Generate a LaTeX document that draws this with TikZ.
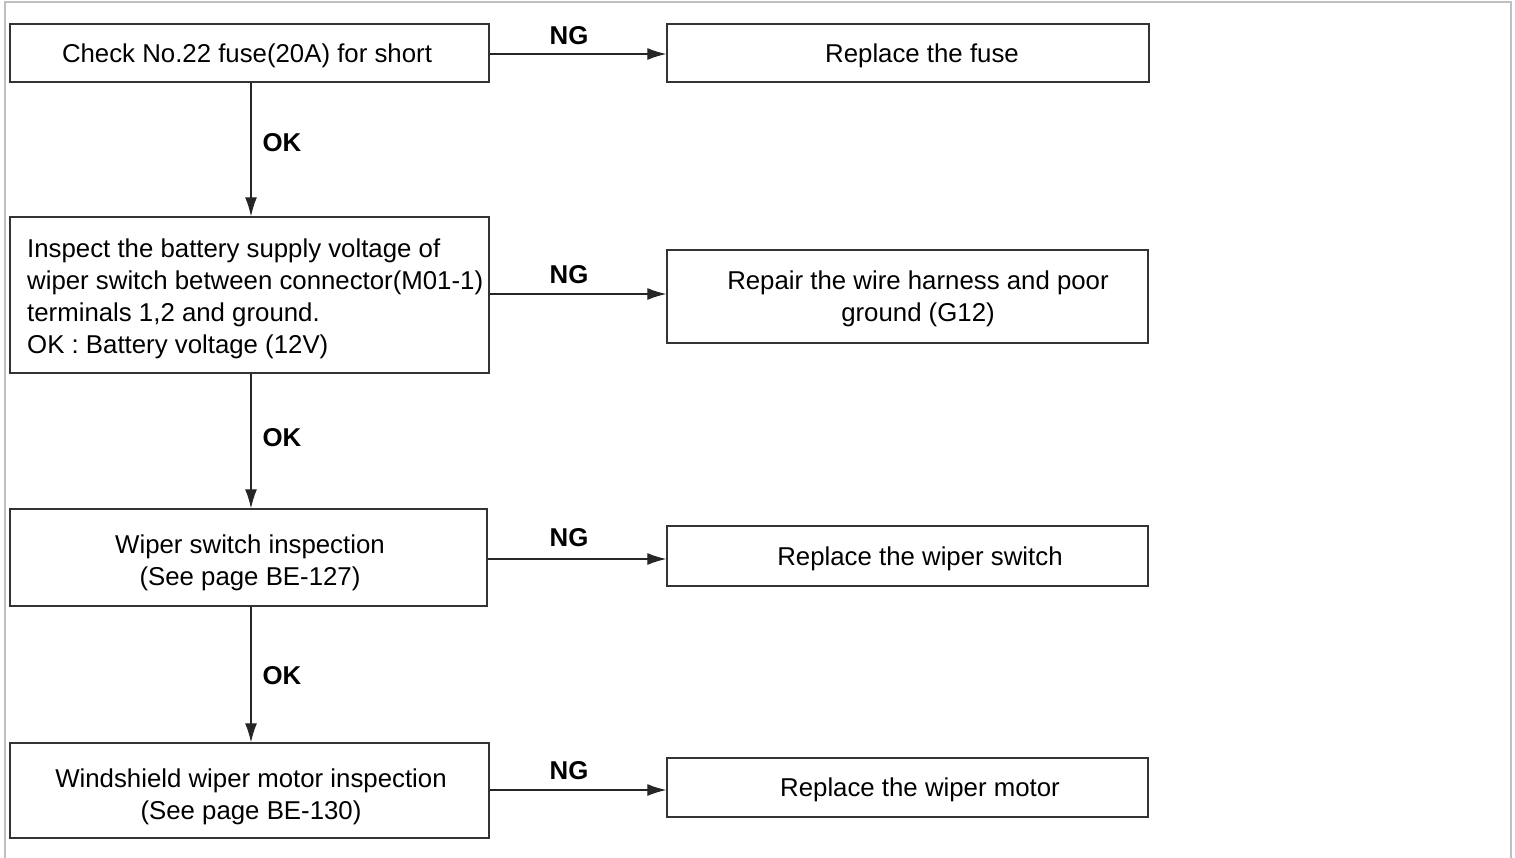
\documentclass[tikz,border=0pt]{standalone}
\usepackage{fontspec}
\setmainfont{Liberation Sans}
\usetikzlibrary{arrows.meta}
\begin{document}
\begin{tikzpicture}[x=1pt,y=-1pt,
  box/.style={draw=black!80, line width=1.4pt, inner sep=0pt},
  txt/.style={inner sep=0pt, align=center, font=\fontsize{25.8}{32}\selectfont},
  flow/.style={draw=black!85, line width=1.3pt, -{Latex[length=19pt,width=12pt]}},
  lbl/.style={inner sep=0pt, font=\fontsize{25.8}{32}\selectfont\bfseries}]
\useasboundingbox (0,0) rectangle (1515,858);
% outer frame
\draw[black!25, line width=2.2pt] (5,860) -- (5,2) -- (1511,2) -- (1511,860);

% left column: checks
\node[box, minimum width=479pt, minimum height=58pt] (c1) at (249.5,53) {};
\node[txt] (c1t) at (247,55.5) {Check No.22 fuse(20A) for short};
\node[box, minimum width=479pt, minimum height=156pt] (c2) at (249.5,295) {};
\node[txt, anchor=west, align=left] (c2t) at (27,299)
  {Inspect the battery supply voltage of\\
   wiper switch between connector(M01-1)\\
   terminals 1,2 and ground.\\
   OK : Battery voltage (12V)};
\node[box, minimum width=477pt, minimum height=97pt] (c3) at (248.5,557.5) {};
\node[txt] (c3t) at (250,563) {Wiper switch inspection\\(See page BE-127)};
\node[box, minimum width=479pt, minimum height=95pt] (c4) at (249.5,790.5) {};
\node[txt] (c4t) at (251,796.5) {Windshield wiper motor inspection\\(See page BE-130)};

% right column: repairs
\node[box, minimum width=482pt, minimum height=58pt] (r1) at (908,53) {};
\node[txt] (r1t) at (922,55.5) {Replace the fuse};
\node[box, minimum width=481pt, minimum height=93pt] (r2) at (907.5,296.5) {};
\node[txt] (r2t) at (918,299) {Repair the wire harness and poor\\ground (G12)};
\node[box, minimum width=481pt, minimum height=60pt] (r3) at (907.5,556) {};
\node[txt] (r3t) at (920,558.5) {Replace the wiper switch};
\node[box, minimum width=481pt, minimum height=59pt] (r4) at (907.5,787.5) {};
\node[txt] (r4t) at (920,789.5) {Replace the wiper motor};

% OK branches
\draw[flow] (c1.south -| 251,0) -- (c2.north -| 251,0);
\draw[flow] (c2.south -| 251,0) -- (c3.north -| 251,0);
\draw[flow] (c3.south -| 251,0) -- (c4.north -| 251,0);
\node[lbl] (ok1) at (282,143) {OK};
\node[lbl] (ok2) at (282,438) {OK};
\node[lbl] (ok3) at (282,676) {OK};

% NG branches
\draw[flow] (c1.east |- 0,54) -- (r1.west |- 0,54);
\draw[flow] (c2.east |- 0,294) -- (r2.west |- 0,294);
\draw[flow] (c3.east |- 0,559) -- (r3.west |- 0,559);
\draw[flow] (c4.east |- 0,790) -- (r4.west |- 0,790);
\node[lbl] (ng1) at (569,36) {NG};
\node[lbl] (ng2) at (569,275) {NG};
\node[lbl] (ng3) at (569,538) {NG};
\node[lbl] (ng4) at (569,771) {NG};
\end{tikzpicture}
\end{document}
